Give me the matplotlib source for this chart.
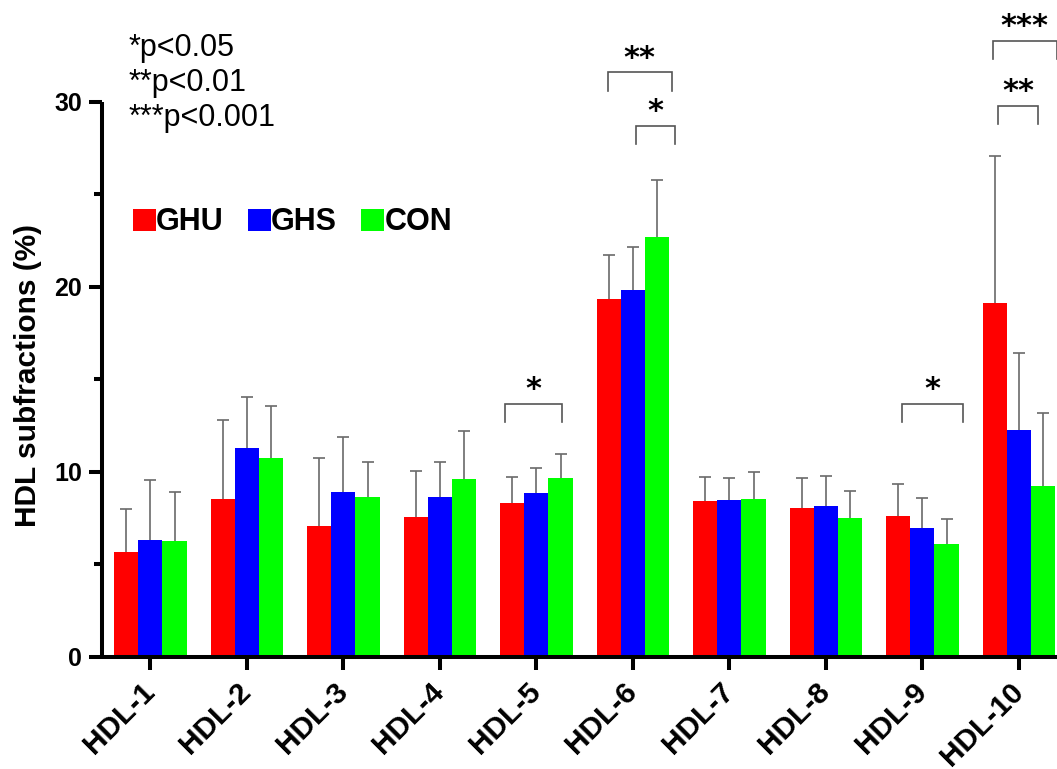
import matplotlib
matplotlib.use("Agg")
import matplotlib.pyplot as plt
import numpy as np

# ---- data ----
categories = ["HDL-1", "HDL-2", "HDL-3", "HDL-4", "HDL-5",
              "HDL-6", "HDL-7", "HDL-8", "HDL-9", "HDL-10"]
groups = ["GHU", "GHS", "CON"]
ghu_mean = [5.66, 8.50, 7.07, 7.54, 8.32, 19.35, 8.39, 8.05, 7.61, 19.10]
ghu_sd = [2.35, 4.27, 3.66, 2.48, 1.38, 2.39, 1.31, 1.63, 1.74, 7.95]
ghs_mean = [6.33, 11.27, 8.88, 8.64, 8.86, 19.82, 8.46, 8.14, 6.95, 12.26]
ghs_sd = [3.24, 2.77, 3.02, 1.87, 1.32, 2.32, 1.18, 1.61, 1.62, 4.13]
con_mean = [6.28, 10.73, 8.64, 9.59, 9.68, 22.70, 8.54, 7.51, 6.09, 9.22]
con_sd = [2.60, 2.82, 1.87, 2.60, 1.30, 3.06, 1.43, 1.44, 1.38, 3.96]
y_ticks = [0, 10, 20, 30]
p_notes = ["*p<0.05", "**p<0.01", "***p<0.001"]

# significance brackets: (category index, label)
sig_labels = [(4, "*"), (5, "**"), (5, "*"), (8, "*"), (9, "***"), (9, "**")]
sig_tops = [13.68, 31.59, 28.70, 13.68, 33.30, 29.78]

# ---- style ----
colors = ["#FF0000", "#0000FF", "#00FF00"]
FONT = "Liberation Sans"
plt.rcParams["font.family"] = [FONT, "DejaVu Sans"]

W, H = 1057, 769
fig = plt.figure(figsize=(W / 100, H / 100), dpi=100)
ax_left, ax_right = 101.7 / W, 1.0
ax_bottom, ax_top = 1 - 656.7 / H, 1 - 101.7 / H
ax = fig.add_axes([ax_left, ax_bottom, ax_right - ax_left, ax_top - ax_bottom])

x = np.arange(len(categories))
bw = 0.25
means = [ghu_mean, ghs_mean, con_mean]
sds = [ghu_sd, ghs_sd, con_sd]
for j, (m, s) in enumerate(zip(means, sds)):
    xs = x + (j - 1) * bw
    ax.bar(xs, m, width=bw, color=colors[j], edgecolor="none", label=groups[j], zorder=2)
    _, caps, _ = ax.errorbar(xs, m, yerr=[np.zeros(len(m)), s], fmt="none",
                             ecolor="#6a6a6a", elinewidth=1.2, capsize=4.5,
                             capthick=1.2, zorder=3)
    caps[0].set_visible(False)

ax.set_xlim(-0.505, 9.395)
ax.set_ylim(0, 30)
ax.set_yticks(y_ticks)
ax.set_yticks([5, 15, 25], minor=True)
ax.set_xticks(x)
ax.set_xticklabels(categories, rotation=45, ha="right", va="center",
                   rotation_mode="anchor", fontsize=21.5, fontweight="bold")
for lab in ax.get_yticklabels():
    lab.set_fontsize(18)
    lab.set_fontweight("bold")

for sp in ["top", "right"]:
    ax.spines[sp].set_visible(False)
for sp in ["left", "bottom"]:
    ax.spines[sp].set_linewidth(2.9)
    ax.spines[sp].set_capstyle("butt")
ax.tick_params(axis="both", which="major", length=9.5, width=2.9, color="black")
ax.tick_params(axis="y", which="minor", length=5.5, width=2.9)
ax.tick_params(axis="y", which="major", pad=4.5)
ax.tick_params(axis="x", which="major", pad=12.5)

ax.set_ylabel("HDL subfractions (%)", fontsize=21.5, fontweight="bold", va="center")
ax.yaxis.set_label_coords((28 - 101.7) / (W - 101.7), 0.506)

# significance brackets
bracket_offsets = [(-0.33, 0.27), (-0.26, 0.40), (0.03, 0.44),
                   (-0.21, 0.42), (-0.27, 0.39), (-0.22, 0.20)]
for (ci, lab), top, (o1, o2) in zip(sig_labels, sig_tops, bracket_offsets):
    x1, x2 = ci + o1, ci + o2
    tip = top - 1.0
    ax.plot([x1, x1, x2, x2], [tip, top, top, tip], color="#555555", lw=1.2,
            clip_on=False, zorder=4, solid_joinstyle="miter")
    ax.text((x1 + x2) / 2, top + 0.3, lab, ha="center", va="baseline",
            fontsize=22, fontweight="bold", family="DejaVu Sans", clip_on=False)

# p-value notes
for k, note in enumerate(p_notes):
    fig.text(129 / W, 1 - (56 + 35 * k) / H, note, fontsize=22, va="baseline", ha="left")

# legend
leg = ax.legend(loc="center left", bbox_to_anchor=(133 / W, 1 - 222.5 / H),
                bbox_transform=fig.transFigure, ncol=3, frameon=False,
                handlelength=0.75, handleheight=0.75, handletextpad=0.0,
                columnspacing=0.8, borderpad=0, borderaxespad=0,
                prop={"family": FONT, "size": 22, "weight": "bold"})

fig.savefig("out.png", dpi=100)
